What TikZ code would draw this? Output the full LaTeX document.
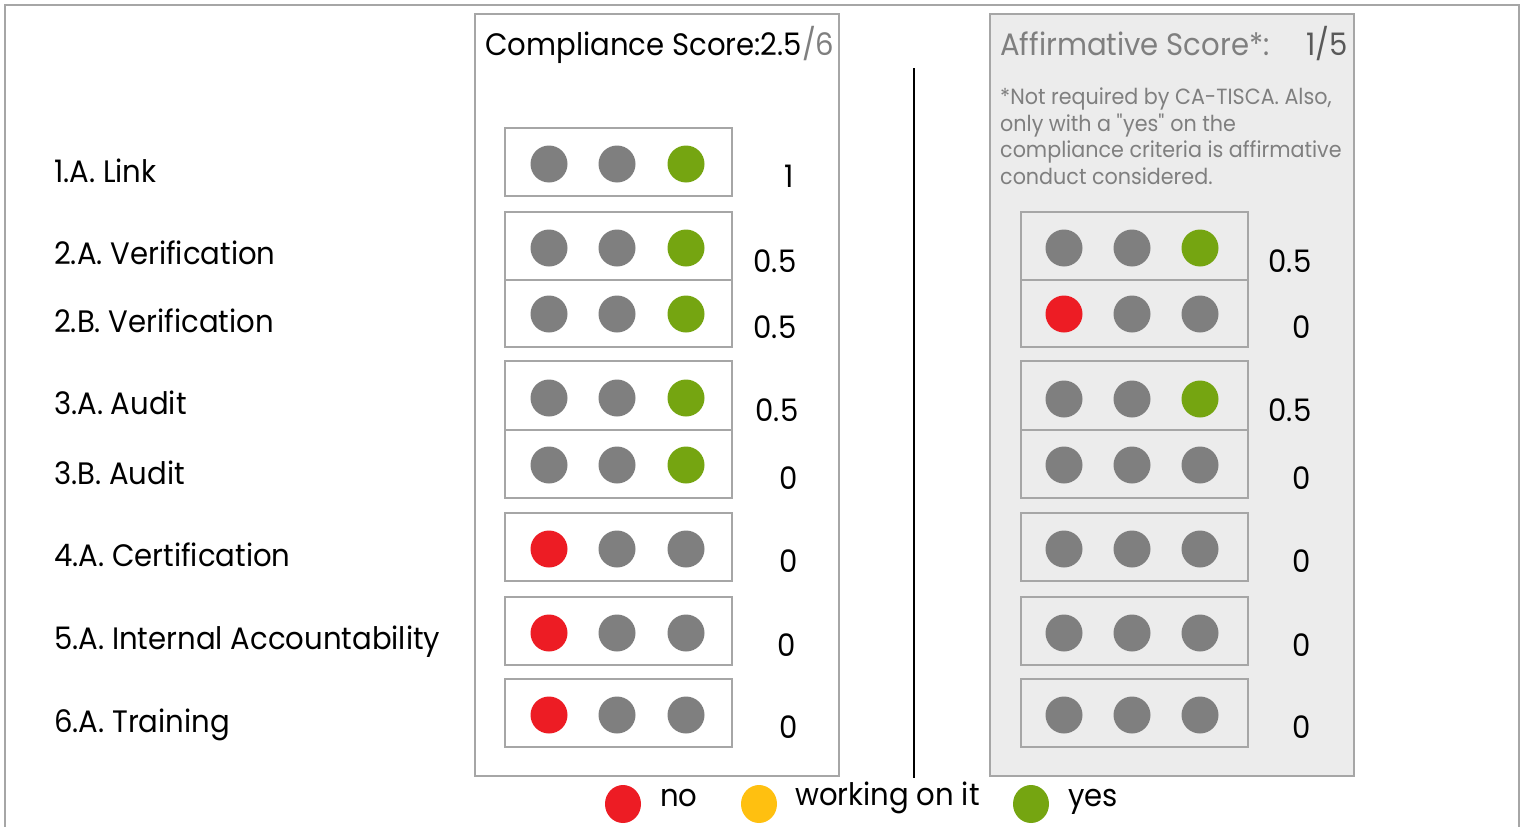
\documentclass[tikz,border=0pt]{standalone}
\usepackage{fontspec}
\setmainfont{Poppins}[FakeStretch=0.94]
\usepackage{tikz}
\usepackage{xcolor}
\usetikzlibrary{positioning, shapes.geometric}
\definecolor{dotgray}{RGB}{127, 127, 127}
\definecolor{dotgreen}{RGB}{117, 165, 17}
\definecolor{dotred}{RGB}{237, 28, 36}
\definecolor{dotyellow}{RGB}{255, 192, 16}
\definecolor{boxgray}{RGB}{166, 166, 166}
\definecolor{panelgray}{RGB}{236, 236, 236}
\definecolor{textgray}{RGB}{127, 127, 127}
\definecolor{scoregray}{RGB}{89, 89, 89}
\tikzset{
    dotnode/.style={circle, minimum size=37pt, inner sep=0pt},
    graydot/.style={dotnode, fill=dotgray},
    greendot/.style={dotnode, fill=dotgreen},
    reddot/.style={dotnode, fill=dotred},
    yellowdot/.style={dotnode, fill=dotyellow},
    legenddot/.style={ellipse, minimum width=36pt, minimum height=38pt, inner sep=0pt},
    rowbox/.style={draw=boxgray, line width=1.1pt, minimum width=227pt, inner sep=0pt},
    panel/.style={draw=boxgray, line width=1.1pt},
    bigtext/.style={font=\fontsize{31}{36}\selectfont, inner sep=0pt, anchor=base west},
    scoretext/.style={font=\fontsize{31}{36}\selectfont, inner sep=0pt, anchor=base}
}

\begin{document}
\begin{tikzpicture}[x=1pt, y=-1pt]
    \useasboundingbox (0,0) rectangle (1524,827);
    % frame and panels
    \draw[boxgray, line width=1.1pt] (5,827) -- (5,5) -- (1519,5) -- (1519,827);
    \draw[panel, fill=white] (475,14) rectangle (839,776);
    \draw[panel, fill=panelgray] (990,14) rectangle (1354,776);
    \coordinate (septop) at (914,68);
    \coordinate (sepbot) at (914,778);
    \draw[line width=1.5pt] (septop) -- (sepbot);

    % titles
    \node[bigtext] (ctitle) at (485,55) {Compliance Score:2.5\textcolor{textgray}{/6}};
    \node[bigtext, text=textgray] (atitle) at (1000,55) {Affirmative Score*:};
    \node[bigtext, anchor=base east, text=scoregray] (ascore) at (1348,55) {1/5};
    \node[anchor=north west, inner sep=0pt, align=left, text=textgray,
          font=\fontsize{22}{26.5}\selectfont] (anote) at (1000,88)
        {*Not required by CA-TISCA. Also,\\only with a \textquotedbl yes\textquotedbl{} on the\\compliance criteria is affirmative\\conduct considered.};

    % criteria labels
    \foreach \n/\y/\t in {1/182/1.A. Link, 2/264/2.A. Verification, 3/332/2.B. Verification,
                          4/414/3.A. Audit, 5/484/3.B. Audit, 6/566/4.A. Certification,
                          7/649/5.A. Internal Accountability, 8/732/6.A. Training}
        \node[bigtext] (label\n) at (54,\y) {\t};

    % compliance boxes
    \foreach \n/\top/\bot in {1/128/196, 2/212/280, 3/280/347, 4/361/430, 5/430/498,
                              6/513/581, 7/597/665, 8/679/747}
        \node[rowbox, minimum height={\bot-\top}] (cbox\n) at (618.5,{(\top+\bot)/2}) {};

    % affirmative boxes
    \foreach \n/\top/\bot in {2/212/280, 3/280/347, 4/361/430, 5/430/498,
                              6/513/581, 7/597/665, 8/679/747}
        \node[rowbox, minimum height={\bot-\top}] (abox\n) at (1134.5,{(\top+\bot)/2}) {};

    % compliance dots
    \foreach \n/\y/\a/\b/\c in {1/164/graydot/graydot/greendot, 2/248/graydot/graydot/greendot,
                                3/314/graydot/graydot/greendot, 4/398/graydot/graydot/greendot,
                                5/465/graydot/graydot/greendot, 6/549/reddot/graydot/graydot,
                                7/633/reddot/graydot/graydot, 8/715/reddot/graydot/graydot} {
        \node[\a] (cdot\n a) at (549,\y) {};
        \node[\b] (cdot\n b) at (617,\y) {};
        \node[\c] (cdot\n c) at (686,\y) {};
    }

    % affirmative dots
    \foreach \n/\y/\a/\b/\c in {2/248/graydot/graydot/greendot, 3/314/reddot/graydot/graydot,
                                4/399/graydot/graydot/greendot, 5/465/graydot/graydot/graydot,
                                6/549/graydot/graydot/graydot, 7/633/graydot/graydot/graydot,
                                8/715/graydot/graydot/graydot} {
        \node[\a] (adot\n a) at (1064,\y) {};
        \node[\b] (adot\n b) at (1132,\y) {};
        \node[\c] (adot\n c) at (1200,\y) {};
    }

    % scores
    \foreach \n/\x/\y/\s in {1/789/187/1, 2/775/272/0.5, 3/775/338/0.5, 4/777/421/0.5,
                             5/789/489/0, 6/789/572/0, 7/787/656/0, 8/789/738/0}
        \node[scoretext] (cscore\n) at (\x,\y) {\s};
    \foreach \n/\x/\y/\s in {2/1290/272/0.5, 3/1302/338/0, 4/1290/421/0.5,
                             5/1302/489/0, 6/1302/572/0, 7/1302/656/0, 8/1302/738/0}
        \node[scoretext] (ascore\n) at (\x,\y) {\s};

    % legend
    \node[legenddot, fill=dotred] (legno) at (623,804) {};
    \node[bigtext] (legnotext) at (660,806) {no};
    \node[legenddot, fill=dotyellow] (legwork) at (759,804) {};
    \node[bigtext] (legworktext) at (795,805) {working on it};
    \node[legenddot, fill=dotgreen] (legyes) at (1031,804) {};
    \node[bigtext] (legyestext) at (1068,806) {yes};
\end{tikzpicture}
\end{document}
